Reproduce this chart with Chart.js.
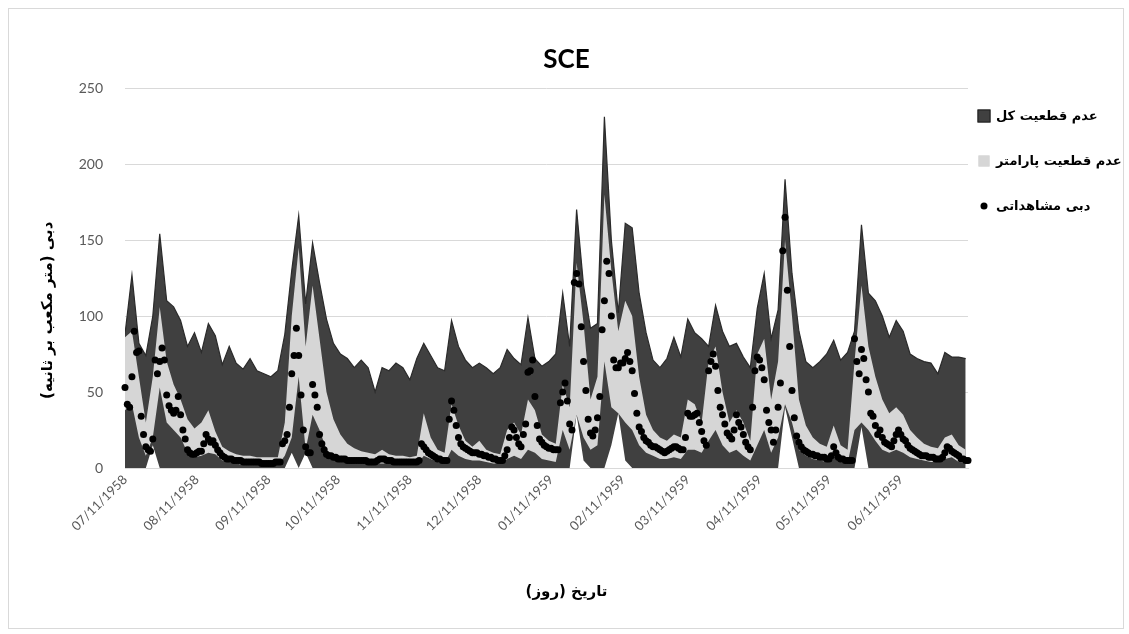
<!DOCTYPE html>
<html><head><meta charset="utf-8">
<script src="https://cdn.jsdelivr.net/npm/chart.js@4.4.1/dist/chart.umd.min.js"></script>
<style>html,body{margin:0;padding:0;background:#fff;}canvas{display:block;}</style>
</head><body>
<canvas id="c" width="1129" height="634"></canvas>
<script>
// band x grid: day offset from 07/11/1958 (every 3rd day)
const days = Array.from({length: 122}, (_, i) => i * 3);

const totalUpper = [88,127,82,74,100,154,110,106,97,80,
  89,76,95,87,68,80,69,65,72,64,
  62,60,64,88,130,166,108,148,122,98,
  82,75,72,66,71,66,50,66,64,69,
  66,58,72,82,74,66,64,97,80,71,
  66,69,66,62,66,78,72,68,99,72,
  67,70,75,115,80,170,120,92,95,231,
  150,102,161,158,115,89,71,66,72,86,
  73,98,89,85,80,107,90,80,82,73,
  66,105,128,85,104,190,128,90,70,66,
  70,75,84,71,76,90,160,115,110,100,
  86,97,90,75,72,70,69,62,76,73,
  73,72];
const totalLower = [0,0,0,0,15,0,0,0,0,0,
  0,0,0,0,0,0,0,0,0,0,
  0,0,0,0,10,0,10,0,0,0,
  0,0,0,0,0,0,0,0,0,0,
  0,0,0,0,0,0,0,0,0,0,
  0,0,0,0,0,0,0,0,0,0,
  0,0,0,0,0,35,5,0,0,0,
  15,36,5,0,0,0,0,0,0,0,
  0,0,0,0,0,0,0,0,0,0,
  0,0,0,0,0,40,20,0,0,0,
  0,0,0,0,0,0,27,0,0,0,
  0,0,0,0,0,0,0,0,0,0,
  0,0];
const paramUpper = [86,90,60,30,60,106,70,55,45,32,
  26,30,38,24,14,11,9,8,8,7,
  7,7,7,30,100,145,80,120,85,50,
  32,22,16,13,11,10,9,12,9,8,
  8,7,8,36,20,12,10,42,28,18,
  14,18,12,10,9,25,30,22,45,38,
  22,18,16,55,40,135,95,45,60,180,
  130,90,110,100,60,35,25,20,18,22,
  20,45,42,30,70,80,50,30,38,30,
  18,75,85,45,70,150,100,45,28,20,
  16,14,28,15,12,70,120,80,60,45,
  36,40,35,25,20,16,14,13,20,22,
  15,12];
const paramLower = [38,42,20,8,20,53,30,25,20,10,
  7,8,10,9,5,4,3,2,2,2,
  2,2,2,8,20,60,12,35,25,12,
  6,5,4,3,3,3,3,3,3,2,
  2,2,2,8,6,4,3,12,8,6,
  5,5,4,3,3,6,8,6,12,10,
  6,5,4,25,12,35,20,12,15,70,
  40,36,30,25,15,10,8,6,6,7,
  6,12,12,10,18,25,15,10,12,8,
  5,15,25,10,20,42,30,12,8,6,
  5,4,8,4,3,25,30,25,18,12,
  10,12,10,7,6,5,4,4,6,7,
  4,3];
// observed discharge, one value per day (day 0 .. 364)
const observed = [53,42,40,60,90,76,77,34,22,14,
  12,11,19,71,62,70,79,71,48,41,
  38,36,38,47,35,25,19,12,10,9,
  9,10,11,11,16,22,19,17,18,15,
  12,10,8,7,6,6,6,5,5,5,
  5,4,4,4,4,4,4,4,4,3,
  3,3,3,3,3,4,4,4,16,18,
  22,40,62,74,92,74,48,25,14,10,
  10,55,48,40,22,16,12,9,8,8,
  7,7,6,6,6,6,5,5,5,5,
  5,5,5,5,5,4,4,4,4,5,
  6,6,6,5,5,5,4,4,4,4,
  4,4,4,4,4,4,4,5,16,14,
  12,10,9,8,7,6,6,5,5,5,
  32,44,38,28,20,16,14,13,12,11,
  10,10,10,9,9,8,8,7,7,6,
  6,5,5,5,8,12,20,27,25,20,
  16,14,22,29,63,64,71,47,28,19,
  17,15,14,13,13,12,12,12,43,50,
  56,44,29,25,122,128,121,93,70,51,
  32,23,21,25,33,47,91,110,136,128,
  100,71,66,66,69,69,72,76,70,64,
  49,36,27,24,20,18,17,15,14,14,
  13,12,11,10,11,12,13,14,14,13,
  12,12,20,36,34,34,35,36,30,24,
  18,15,64,70,75,67,51,40,35,29,
  23,21,19,25,35,30,27,22,17,14,
  12,40,64,73,71,66,58,38,30,25,
  17,25,40,56,143,165,117,80,51,33,
  21,17,14,12,11,10,9,9,8,8,
  7,7,7,6,6,8,14,10,7,6,
  6,5,5,5,5,85,70,62,78,72,
  58,50,36,34,28,22,25,20,17,16,
  15,14,18,22,25,22,19,18,15,13,
  12,11,10,9,8,8,8,7,7,7,
  6,6,6,7,10,14,13,11,10,9,
  8,6,6,5,5];

const tickDays = [0,31,62,92,123,153,184,215,243,274,304,335];
const tickLabels = ['07/11/1958','08/11/1958','09/11/1958','10/11/1958','11/11/1958','12/11/1958',
  '01/11/1959','02/11/1959','03/11/1959','04/11/1959','05/11/1959','06/11/1959'];
const titleText = 'SCE';
const seriesNames = ['عدم قطعیت کل', 'عدم قطعیت پارامتر', 'دبی مشاهداتی'];
const xTitle = 'تاریخ (روز)';
const yTitle = 'دبی (متر مکعب بر ثانیه)';

const decor = {
  id: 'decor',
  beforeDraw(chart) {
    const ctx = chart.ctx;
    ctx.save();
    ctx.fillStyle = '#fff';
    ctx.fillRect(0, 0, chart.width, chart.height);
    ctx.strokeStyle = '#d9d9d9';
    ctx.lineWidth = 1;
    ctx.strokeRect(8.5, 8.5, chart.width - 14, chart.height - 14);
    ctx.restore();
  },
  afterDraw(chart) {
    const ctx = chart.ctx, a = chart.chartArea, ds = chart.data.datasets;
    ctx.save();
    ctx.textBaseline = 'middle';
    // chart title
    ctx.fillStyle = '#000';
    ctx.font = 'bold 26px Lato';
    ctx.textAlign = 'center';
    ctx.fillText(titleText, chart.width / 2 + 2, 60);
    ctx.direction = 'rtl';
    ctx.font = 'bold 15px "DejaVu Sans"';
    // y title
    ctx.save();
    ctx.translate(a.left - 77, a.top + (a.bottom - a.top) * 0.585);
    ctx.rotate(-Math.PI / 2);
    ctx.textAlign = 'center';
    ctx.fillText(yTitle, 0, 0);
    ctx.restore();
    // x title
    ctx.textAlign = 'center';
    ctx.fillText(xTitle, (a.left + a.right) / 2 + 20, a.bottom + 124);
    // legend
    ctx.font = 'bold 13px "DejaVu Sans"';
    const lx = a.right + 16, ly = a.top + 28, gap = 45;
    const items = [
      {text: ds[3].label, type: 'sq', fill: '#404040', stroke: '#1e1e1e', size: 13},
      {text: ds[1].label, type: 'sq', fill: '#d6d6d6', stroke: '#d6d6d6', size: 11},
      {text: ds[0].label, type: 'dot', fill: '#000', size: 7}
    ];
    items.forEach((it, i) => {
      const cy = ly + i * gap;
      if (it.type === 'sq') {
        ctx.fillStyle = it.fill;
        ctx.fillRect(lx - it.size / 2, cy - it.size / 2, it.size, it.size);
        ctx.strokeStyle = it.stroke;
        ctx.lineWidth = 1;
        ctx.strokeRect(lx - it.size / 2 + 0.5, cy - it.size / 2 + 0.5, it.size - 1, it.size - 1);
      } else {
        ctx.fillStyle = it.fill;
        ctx.beginPath();
        ctx.arc(lx, cy, it.size / 2, 0, Math.PI * 2);
        ctx.fill();
      }
      ctx.fillStyle = '#000';
      ctx.textAlign = 'left';
      ctx.fillText(it.text, lx + 12, cy + 1);
    });
    ctx.restore();
  }
};

new Chart(document.getElementById('c'), {
  type: 'line',
  data: {
    labels: days,
    datasets: [
      {label: seriesNames[2], data: observed.map((v, i) => ({x: i, y: v})), showLine: false, pointRadius: 3.5,
       pointBackgroundColor: '#000', pointBorderWidth: 0, pointHoverRadius: 3.5, order: 0, clip: false},
      {label: seriesNames[1], data: paramUpper, fill: '+1', backgroundColor: '#d6d6d6', borderWidth: 0,
       borderColor: 'rgba(0,0,0,0)', pointRadius: 0, order: 1},
      {label: 'paramLower', data: paramLower, fill: false, borderWidth: 0, borderColor: 'rgba(0,0,0,0)', pointRadius: 0, order: 1},
      {label: seriesNames[0], data: totalUpper, fill: '+1', backgroundColor: '#404040', borderColor: '#2a2a2a',
       borderWidth: 1.2, pointRadius: 0, order: 2},
      {label: 'totalLower', data: totalLower, fill: false, borderWidth: 0, borderColor: 'rgba(0,0,0,0)', pointRadius: 0, order: 2}
    ]
  },
  options: {
    responsive: false,
    animation: false,
    devicePixelRatio: 1,
    layout: {padding: {left: 0, right: 161, top: 88, bottom: 0}},
    elements: {line: {tension: 0}},
    plugins: {
      legend: {display: false},
      tooltip: {enabled: false},
      title: {display: false}
    },
    scales: {
      x: {
        type: 'linear', min: 0, max: 364,
        afterBuildTicks: s => { s.ticks = tickDays.map(v => ({value: v})); },
        afterFit: s => { s.height = 166; },
        ticks: {
          autoSkip: false, minRotation: 45, maxRotation: 45, color: '#595959', padding: 4,
          font: {family: 'Lato', size: 13},
          callback: v => { const i = tickDays.indexOf(v); return i >= 0 ? tickLabels[i] : ''; }
        },
        grid: {display: false, drawTicks: false},
        border: {display: true, color: '#d9d9d9'}
      },
      y: {
        min: 0, max: 250,
        afterFit: s => { s.width = 125; },
        ticks: {stepSize: 50, color: '#595959', padding: 22, font: {family: 'Lato', size: 14}},
        grid: {color: '#d9d9d9', drawTicks: false},
        border: {display: false}
      }
    }
  },
  plugins: [decor]
});
</script>
</body></html>
